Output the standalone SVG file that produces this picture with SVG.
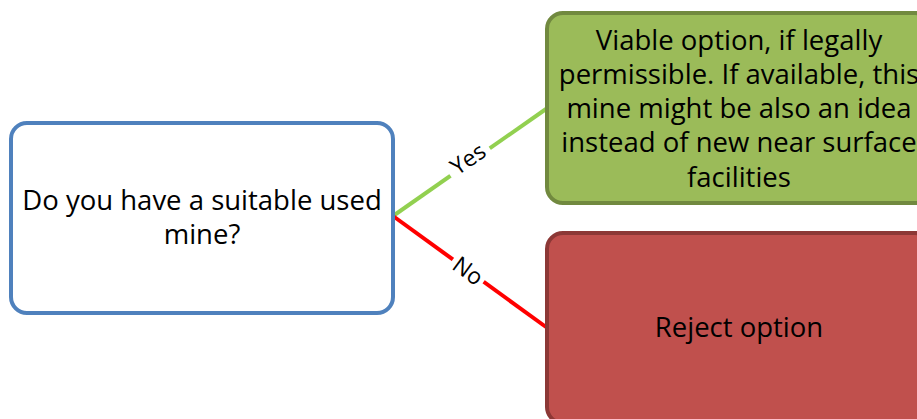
<svg xmlns="http://www.w3.org/2000/svg" width="917" height="419" viewBox="0 0 917 419">
<style>
.t{font-family:"Open Sans","Noto Sans",sans-serif;font-size:27.5px;fill:#000;text-anchor:middle}
.l{font-family:"Open Sans","Noto Sans",sans-serif;font-size:23px;fill:#000;text-anchor:middle}
</style>
<rect width="917" height="419" fill="#fff"/>
<g id="connectors">
<line x1="393" y1="216" x2="546" y2="109" stroke="#92D050" stroke-width="4"/>
<line x1="393" y1="216" x2="546" y2="327" stroke="#FF0000" stroke-width="4"/>
<rect x="444" y="145" width="48" height="28" fill="#fff" transform="rotate(-35 468 159)"/>
<text class="l" x="468" y="167" transform="rotate(-35 468 159)">Yes</text>
<rect x="449" y="257" width="38" height="28" fill="#fff" transform="rotate(36 468 271)"/>
<text class="l" x="468" y="279" transform="rotate(36 468 271)">No</text>
</g>
<g id="question">
<rect x="11" y="123" width="382" height="190" rx="16" fill="#fff" stroke="#4F81BD" stroke-width="4"/>
<text class="t" x="202" y="210">Do you have a suitable used</text>
<text class="t" x="202" y="244">mine?</text>
</g>
<g id="viable">
<rect x="547" y="13" width="384" height="190" rx="16" fill="#9BBB59" stroke="#71893F" stroke-width="4"/>
<text class="t" x="739" y="50">Viable option, if legally</text>
<text class="t" x="739" y="84">permissible. If available, this</text>
<text class="t" x="739" y="118">mine might be also an idea</text>
<text class="t" x="739" y="152">instead of new near surface</text>
<text class="t" x="739" y="187">facilities</text>
</g>
<g id="reject">
<rect x="547" y="233" width="384" height="190" rx="16" fill="#C0504D" stroke="#8C3836" stroke-width="4"/>
<text class="t" x="739" y="337">Reject option</text>
</g>
</svg>
